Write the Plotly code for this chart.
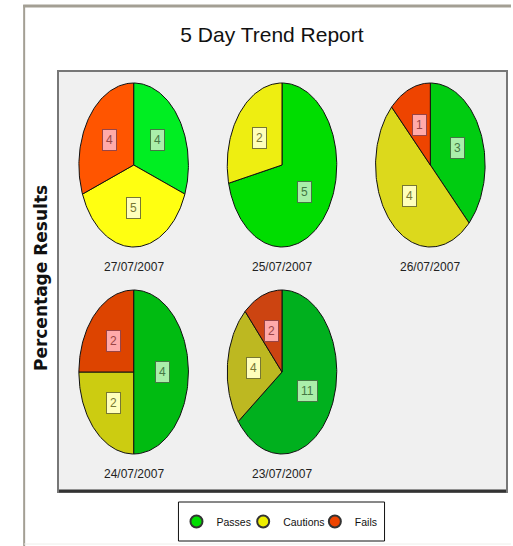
import numpy as np
import plotly.graph_objects as go

# ---- data ----
dates = ["27/07/2007", "25/07/2007", "26/07/2007", "24/07/2007", "23/07/2007"]
passes = [4, 5, 3, 4, 11]
cautions = [5, 2, 4, 2, 4]
fails = [4, 0, 1, 2, 2]
series_names = ["Passes", "Cautions", "Fails"]

# per-pie colours (darker for older days)
green_cols = ["#00ee22", "#00dd00", "#00cc11", "#00bb11", "#00b01e"]
yellow_cols = ["#ffff11", "#eeee11", "#dcd91c", "#cccc11", "#bdb821"]
red_cols = ["#ff5500", "#ee4400", "#ee4400", "#dd4400", "#cc4411"]
legend_cols = ["#00dd00", "#eeee00", "#ee4400"]
label_bg = ["#aaeeaa", "#ffffbb", "#ffaaaa"]
label_fg = ["#447744", "#777733", "#994444"]

# ---- layout geometry (pixels) ----
W, H = 513, 546
L, R, T, B = 59, 5, 72, 55
PW, PH = W - L - R, H - T - B
col_step, row_step = 149, 207
cx0, cy0 = 75, 93
rx, ry = 55, 82
FONT = "Liberation Sans, Arial, sans-serif"
legend_left_px = [177, 244, 316]

fig = go.Figure()

for i, d in enumerate(dates):
    cx = cx0 + col_step * (i % 3)
    cy = cy0 + row_step * (i // 3)
    vals = [passes[i], cautions[i], fails[i]]
    cols = [green_cols[i], yellow_cols[i], red_cols[i]]
    total = sum(vals)
    start = 0.0
    for k, v in enumerate(vals):
        if v <= 0:
            continue
        ang = 2 * np.pi * v / total
        th = np.linspace(start, start + ang, max(8, int(ang * 40)))
        xs = np.concatenate([[cx], cx + rx * np.sin(th), [cx]])
        ys = np.concatenate([[cy], cy - ry * np.cos(th), [cy]])
        fig.add_trace(go.Scatter(
            x=xs, y=ys, mode="lines", fill="toself", fillcolor=cols[k],
            line=dict(color="#111111", width=1), showlegend=False,
            name=series_names[k], hoverinfo="name+text", text=f"{d}: {v}"))
        mid = start + ang / 2
        fig.add_annotation(
            x=cx + 0.53 * rx * np.sin(mid), y=cy - 0.53 * ry * np.cos(mid),
            text=str(v), showarrow=False,
            font=dict(family=FONT, size=12, color=label_fg[k]),
            bgcolor=label_bg[k], bordercolor=label_fg[k], borderwidth=1, borderpad=3)
        start += ang
    fig.add_annotation(x=cx, y=cy + ry + 20, text=d, showarrow=False,
                       font=dict(family=FONT, size=12, color="#222222"))

def px_x(p):
    return (p - L) / PW

def px_y(p):
    return 1 - (p - T) / PH

legend_layouts = {}
for k, n in enumerate(series_names):
    lg = "legend" if k == 0 else f"legend{k + 1}"
    fig.add_trace(go.Scatter(
        x=[None], y=[None], mode="markers", name=n, legend=lg,
        marker=dict(symbol="circle", size=8, color=legend_cols[k],
                    line=dict(color="#333333", width=1))))
    legend_layouts[lg] = dict(
        x=px_x(legend_left_px[k]), xanchor="left", y=px_y(521.5), yanchor="middle",
        orientation="h", borderwidth=0, bgcolor="rgba(0,0,0,0)",
        font=dict(family=FONT, size=10.5, color="#111111"),
        itemwidth=30, itemsizing="constant")

# outer gray frame (top & left)
fig.add_shape(type="line", xref="paper", yref="paper", x0=px_x(23), x1=px_x(513), y0=px_y(6), y1=px_y(6),
              line=dict(color="#a39f94", width=3))
fig.add_shape(type="line", xref="paper", yref="paper", x0=px_x(24), x1=px_x(24), y0=px_y(5), y1=px_y(546),
              line=dict(color="#a39f94", width=2))
fig.add_shape(type="line", xref="paper", yref="paper", x0=px_x(24), x1=px_x(513), y0=px_y(544), y1=px_y(544),
              line=dict(color="#eeeeea", width=1))
# thicker bottom edge of plot box
fig.add_shape(type="line", xref="paper", yref="paper", x0=0, x1=1, y0=0, y1=0,
              line=dict(color="#333333", width=3))
# legend box
fig.add_shape(type="rect", xref="paper", yref="paper", x0=px_x(179), x1=px_x(386), y0=px_y(502), y1=px_y(541),
              line=dict(color="#111111", width=1), fillcolor="white", layer="below")

fig.add_annotation(xref="paper", yref="paper", x=px_x(41), y=px_y(278), xanchor="center", yanchor="middle",
                   text="<b>Percentage Results</b>", textangle=-90, showarrow=False,
                   font=dict(family="DejaVu Sans, sans-serif", size=17, color="#111111"))

fig.update_layout(
    width=W, height=H,
    margin=dict(l=L, r=R, t=T, b=B),
    paper_bgcolor="white", plot_bgcolor="#f0f0f0",
    title=dict(text="5 Day Trend Report", x=272 / W, xanchor="center", y=1 - 35 / H, yanchor="middle",
               font=dict(family=FONT, size=21, color="#111111")),
    xaxis=dict(range=[0, PW], showgrid=False, zeroline=False, showticklabels=False,
               ticks="", showline=True, mirror=True, linecolor="#777777", linewidth=2, fixedrange=True),
    yaxis=dict(range=[PH, 0], showgrid=False, zeroline=False, showticklabels=False,
               ticks="", showline=True, mirror=True, linecolor="#777777", linewidth=2, fixedrange=True),
    showlegend=True,
    **legend_layouts,
)

fig.write_html("out.html", config={"displayModeBar": False},
               post_script="document.body.style.margin='0';")
